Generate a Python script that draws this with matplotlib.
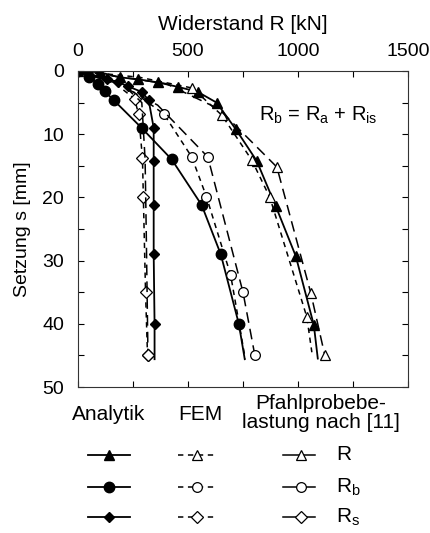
import matplotlib
matplotlib.use("Agg")
import matplotlib.pyplot as plt
from matplotlib.lines import Line2D
from matplotlib.ticker import MultipleLocator

plt.rcParams['font.family'] = ['Liberation Sans', 'DejaVu Sans']
plt.rcParams['mathtext.fontset'] = 'custom'
plt.rcParams['mathtext.rm'] = 'Liberation Sans'
plt.rcParams['mathtext.it'] = 'Liberation Sans'

# ---- data: settlement s [mm] and resistance R [kN] ----
# Analytik
an_R_s = [0, 0.2, 1.0, 1.3, 1.8, 2.5, 3.3, 5.0, 9.2, 14.2, 21.4, 29.3, 40.2, 45.5]
an_R_v = [0, 98, 189, 271, 362, 453, 544, 630, 717, 812, 899, 990, 1072, 1090]
an_Rb_s = [0, 1.0, 2.0, 3.2, 4.6, 9.0, 14.0, 21.2, 29.0, 40.0, 45.6]
an_Rb_v = [0, 52, 89, 121, 162, 289, 426, 562, 649, 731, 758]
an_Rs_s = [0, 1.3, 1.7, 2.4, 3.3, 4.6, 9.0, 14.2, 21.2, 29.0, 40.0, 45.6]
an_Rs_v = [0, 134, 180, 225, 289, 321, 344, 344, 344, 344, 348, 348]

# FEM
fem_R_s = [0, 1.0, 2.7, 7.0, 14.1, 20.0, 38.9, 44.5]
fem_R_v = [0, 280, 520, 654, 790, 872, 1040, 1063]
fem_Rb_s = [0, 2.0, 6.8, 13.6, 19.9, 32.3, 45.5]
fem_Rb_v = [0, 200, 390, 517, 584, 694, 760]
fem_Rs_s = [0, 2.0, 4.4, 6.8, 13.8, 19.9, 35.0, 45.0]
fem_Rs_v = [0, 170, 257, 275, 293, 297, 307, 316]

# Pfahlprobebelastung
pb_R_s = [0, 2.0, 6.0, 15.2, 35.1, 45.0]
pb_R_v = [0, 400, 640, 904, 1058, 1122]
pb_Rb_s = [0, 2.0, 5.4, 13.6, 35.0, 45.0]
pb_Rb_v = [0, 180, 362, 590, 750, 804]
pb_Rs_s = [0, 2.0, 5.0, 14.0, 25.0, 45.0]
pb_Rs_v = [0, 200, 290, 305, 310, 318]

fig = plt.figure(figsize=(4.31, 5.33), dpi=100)
ax = fig.add_axes([0.181, 0.2739, 0.7656, 0.5929])

solid = dict(color='black', lw=1.3, linestyle='-')
fem_ls = (0, (3.5, 3.0))
pb_ls = (0, (7, 4))
fem = dict(color='black', lw=1.1, linestyle=fem_ls, mfc='white', mec='black', mew=0.9)
pb = dict(color='black', lw=1.1, linestyle=pb_ls, mfc='white', mec='black', mew=0.9)

ax.plot(an_R_v, an_R_s, marker='^', ms=6.5, markevery=list(range(len(an_R_s) - 1)), **solid)
ax.plot(an_Rb_v, an_Rb_s, marker='o', ms=7.5, markevery=list(range(len(an_Rb_s) - 1)), **solid)
ax.plot(an_Rs_v, an_Rs_s, marker='D', ms=5, markevery=list(range(len(an_Rs_s) - 1)), **solid)

ax.plot(fem_R_v, fem_R_s, marker='^', ms=7, markevery=[2, 3, 4, 5, 6], **fem)
ax.plot(fem_Rb_v, fem_Rb_s, marker='o', ms=7, markevery=[2, 3, 4, 5], **fem)
ax.plot(fem_Rs_v, fem_Rs_s, marker='D', ms=6, markevery=[2, 3, 4, 5, 6, 7], **fem)

ax.plot(pb_R_v, pb_R_s, marker='^', ms=7, markevery=[3, 4, 5], **pb)
ax.plot(pb_Rb_v, pb_Rb_s, marker='o', ms=7, markevery=[3, 4, 5], **pb)
ax.plot(pb_Rs_v, pb_Rs_s, marker='D', ms=6, markevery=[5], **pb)

ax.set_xlim(0, 1500)
ax.set_ylim(50, 0)
ax.xaxis.set_major_locator(MultipleLocator(500))
ax.xaxis.set_minor_locator(MultipleLocator(250))
ax.yaxis.set_major_locator(MultipleLocator(10))
ax.yaxis.set_minor_locator(MultipleLocator(5))
ax.xaxis.tick_top()
ax.xaxis.set_label_position('top')
ax.tick_params(which='both', direction='in', top=True, bottom=True, left=True, right=True,
               length=4, width=0.8, labelsize=14)
ax.tick_params(axis='x', which='major', pad=8)
ax.tick_params(axis='y', which='major', pad=10)
for sp in ax.spines.values():
    sp.set_linewidth(0.8)
    sp.set_color('#333333')
ax.set_xlabel('Widerstand R [kN]', fontsize=15, labelpad=9)
ax.set_ylabel('Setzung s [mm]', fontsize=14, labelpad=8)

ax.text(0.55, 0.86,
        r'$\mathregular{R_b}$ = $\mathregular{R_a}$ + $\mathregular{R_{is}}$',
        transform=ax.transAxes, fontsize=14.5, ha='left', va='center')

# ---- legend below the axes ----
W, H = 431.0, 533.0
def fx(px):
    return px / W
def fy(py):
    return 1 - py / H

fig.text(fx(109), fy(415), 'Analytik', fontsize=15, ha='center', va='center')
fig.text(fx(200), fy(415), 'FEM', fontsize=15, ha='center', va='center')
fig.text(fx(321), fy(413), 'Pfahlprobebe-\nlastung nach [11]', fontsize=15, ha='center',
         va='center', linespacing=1.0)

rows_y = [455, 487, 517]
markers = [('^', 6.5, 7), ('o', 7.5, 7), ('D', 5, 6)]
labels = ['R', r'$\mathregular{R_b}$', r'$\mathregular{R_s}$']
for yy, (m, ms_an, ms_o), lab in zip(rows_y, markers, labels):
    fig.add_artist(Line2D([fx(88), fx(130)], [fy(yy), fy(yy)], transform=fig.transFigure, **solid))
    fig.add_artist(Line2D([fx(109)], [fy(yy)], transform=fig.transFigure, marker=m, ms=ms_an,
                          color='black', linestyle='none'))
    fig.add_artist(Line2D([fx(178), fx(215)], [fy(yy), fy(yy)], transform=fig.transFigure, **fem))
    fig.add_artist(Line2D([fx(197)], [fy(yy)], transform=fig.transFigure, marker=m, ms=ms_o,
                          linestyle='none', mfc='white', mec='black', mew=0.9))
    fig.add_artist(Line2D([fx(283), fx(315)], [fy(yy), fy(yy)], transform=fig.transFigure,
                          color='black', lw=1.1, linestyle='-'))
    fig.add_artist(Line2D([fx(301)], [fy(yy)], transform=fig.transFigure, marker=m, ms=ms_o,
                          linestyle='none', mfc='white', mec='black', mew=0.9))
    fig.text(fx(336), fy(yy), lab, fontsize=15, ha='left', va='center')

fig.savefig('out.png', dpi=100, facecolor='white')
